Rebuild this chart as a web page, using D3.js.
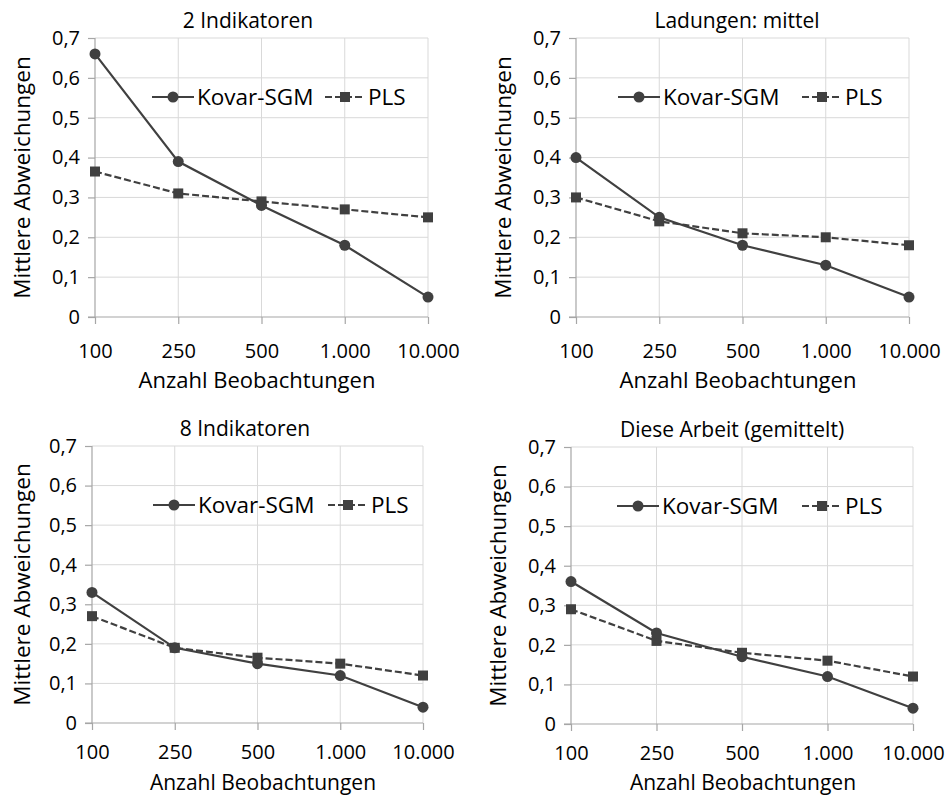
<!DOCTYPE html>
<html>
<head>
<meta charset="utf-8">
<script src="https://cdn.jsdelivr.net/npm/d3@7"></script>
<style>
  body { margin: 0; background: #fff; }
  text { font-family: "Open Sans", sans-serif; fill: #000; }
</style>
</head>
<body>
<svg id="chart" width="947" height="797"></svg>
<script>
// data
var categories = ['100', '250', '500', '1.000', '10.000']
var yTicks = [0, 0.1, 0.2, 0.3, 0.4, 0.5, 0.6, 0.7]
var titles = ['2 Indikatoren', 'Ladungen: mittel', '8 Indikatoren', 'Diese Arbeit (gemittelt)']
var seriesNames = ['Kovar-SGM', 'PLS']
var kovar2Ind = [0.66, 0.39, 0.28, 0.18, 0.05]
var pls2Ind = [0.365, 0.31, 0.29, 0.27, 0.25]
var kovarMittel = [0.40, 0.25, 0.18, 0.13, 0.05]
var plsMittel = [0.30, 0.24, 0.21, 0.20, 0.18]
var kovar8Ind = [0.33, 0.19, 0.15, 0.12, 0.04]
var pls8Ind = [0.27, 0.19, 0.165, 0.15, 0.12]
var kovarArbeit = [0.36, 0.23, 0.17, 0.12, 0.04]
var plsArbeit = [0.29, 0.21, 0.18, 0.16, 0.12]
var yLabel = 'Mittlere Abweichungen'
var xLabel = 'Anzahl Beobachtungen'

// layout of the four panels
var panels = [
    { title: titles[0], kovar: kovar2Ind, pls: pls2Ind, x0: 95, x1: 428, y0: 317, y1: 38, legX: 152, legX2: 325, yLabX: 22, xTitleX: 257, xTitleY: 388, titleX: 248, pad: 20, xtSize: 22 },
    { title: titles[1], kovar: kovarMittel, pls: plsMittel, x0: 576, x1: 909, y0: 317, y1: 38, legX: 618, legX2: 802, yLabX: 503, xTitleX: 738, xTitleY: 388, titleX: 737, pad: 20, xtSize: 22 },
    { title: titles[2], kovar: kovar8Ind, pls: pls8Ind, x0: 92, x1: 423, y0: 723, y1: 446, legX: 153, legX2: 328, yLabX: 22, xTitleX: 263, xTitleY: 790, titleX: 245, pad: 15, xtSize: 21 },
    { title: titles[3], kovar: kovarArbeit, pls: plsArbeit, x0: 571, x1: 913, y0: 724, y1: 447, legX: 617, legX2: 802, yLabX: 498, xTitleX: 743, xTitleY: 790, titleX: 732, pad: 15, xtSize: 21 }
]

var lineColor = '#404040'
var svg = d3.select('#chart')
svg.append('rect').attr('width', 947).attr('height', 797).attr('fill', '#fff')

panels.forEach(function(p) {
    var x = d3.scalePoint().domain(categories).range([p.x0, p.x1])
    var y = d3.scaleLinear().domain([0, 0.7]).range([p.y0, p.y1])
    var g = svg.append('g')

    // horizontal gridlines
    g.selectAll('line.hgrid').data(yTicks.slice(1)).enter().append('line')
        .attr('x1', p.x0).attr('x2', p.x1)
        .attr('y1', function(d) { return y(d) }).attr('y2', function(d) { return y(d) })
        .attr('stroke', '#d9d9d9').attr('stroke-width', 1)
    // vertical gridlines
    g.selectAll('line.vgrid').data(categories.slice(1)).enter().append('line')
        .attr('x1', function(d) { return x(d) }).attr('x2', function(d) { return x(d) })
        .attr('y1', p.y1).attr('y2', p.y0)
        .attr('stroke', '#d9d9d9').attr('stroke-width', 1)

    // y axis
    var yAxis = g.append('g').attr('transform', 'translate(' + p.x0 + ',0)')
        .call(d3.axisLeft(y).tickValues(yTicks).tickSize(7).tickPadding(8)
            .tickFormat(function(d) { return d === 0 ? '0' : d3.format('.1f')(d).replace('.', ',') }))
    // x axis
    var xAxis = g.append('g').attr('transform', 'translate(0,' + p.y0 + ')')
        .call(d3.axisBottom(x).tickSize(7).tickPadding(p.pad))
    ;[yAxis, xAxis].forEach(function(a) {
        a.select('.domain').attr('stroke', '#a6a6a6').attr('stroke-width', 1.2)
        a.selectAll('.tick line').attr('stroke', '#a6a6a6').attr('stroke-width', 1.2)
        a.selectAll('.tick text').attr('font-size', 20).attr('fill', '#000').style('font-family', '"Open Sans", sans-serif')
    })
    yAxis.select('.domain').attr('d', 'M0,' + p.y0 + 'V' + p.y1)
    xAxis.select('.domain').attr('d', 'M' + (p.x0 - 7) + ',0H' + p.x1)

    // series
    var line = d3.line().x(function(d, i) { return x(categories[i]) }).y(function(d) { return y(d) })
    g.append('path').datum(p.pls).attr('d', line)
        .attr('fill', 'none').attr('stroke', lineColor).attr('stroke-width', 2.2).attr('stroke-dasharray', '7,3')
    g.append('path').datum(p.kovar).attr('d', line)
        .attr('fill', 'none').attr('stroke', lineColor).attr('stroke-width', 2.2)
    g.selectAll('rect.pls').data(p.pls).enter().append('rect')
        .attr('x', function(d, i) { return x(categories[i]) - 5 })
        .attr('y', function(d) { return y(d) - 5 })
        .attr('width', 10).attr('height', 10).attr('fill', lineColor)
    g.selectAll('circle.kovar').data(p.kovar).enter().append('circle')
        .attr('cx', function(d, i) { return x(categories[i]) })
        .attr('cy', function(d) { return y(d) })
        .attr('r', 5.5).attr('fill', lineColor)

    // legend
    var ly = p.y1 + 59
    g.append('line').attr('x1', p.legX).attr('x2', p.legX + 42).attr('y1', ly).attr('y2', ly)
        .attr('stroke', lineColor).attr('stroke-width', 2.2)
    g.append('circle').attr('cx', p.legX + 21).attr('cy', ly).attr('r', 5.5).attr('fill', lineColor)
    g.append('text').attr('x', p.legX + 45).attr('y', ly + 8).attr('font-size', 22.5).text(seriesNames[0])
    g.append('line').attr('x1', p.legX2).attr('x2', p.legX2 + 40).attr('y1', ly).attr('y2', ly)
        .attr('stroke', lineColor).attr('stroke-width', 2.2).attr('stroke-dasharray', '7,3')
    g.append('rect').attr('x', p.legX2 + 15).attr('y', ly - 5).attr('width', 10).attr('height', 10).attr('fill', lineColor)
    g.append('text').attr('x', p.legX2 + 43).attr('y', ly + 8).attr('font-size', 22.5).text(seriesNames[1])

    // titles
    g.append('text').attr('x', p.titleX).attr('y', p.y1 - 10)
        .attr('text-anchor', 'middle').attr('font-size', 21).text(p.title)
    g.append('text').attr('transform', 'translate(' + (p.yLabX + 8) + ',' + ((p.y0 + p.y1) / 2) + ') rotate(-90)')
        .attr('text-anchor', 'middle').attr('font-size', 22.5).text(yLabel)
    g.append('text').attr('x', p.xTitleX).attr('y', p.xTitleY)
        .attr('text-anchor', 'middle').attr('font-size', p.xtSize).text(xLabel)
})
</script>
</body>
</html>
